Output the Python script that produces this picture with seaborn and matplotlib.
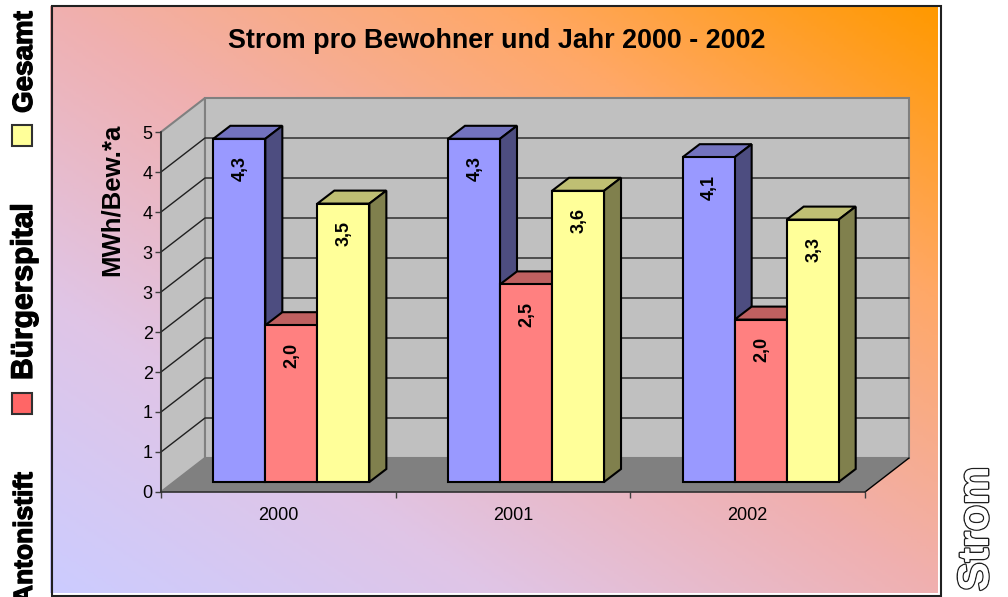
import numpy as np
import pandas as pd
import matplotlib
matplotlib.use("Agg")
import matplotlib.pyplot as plt
import matplotlib.patheffects as pe
from matplotlib.colors import LinearSegmentedColormap
from matplotlib.patches import Rectangle
import seaborn as sns

# data
years = ["2000", "2001", "2002"]
series_names = ["Antonistift", "Bürgerspital", "Gesamt"]
antonistift = [4.29, 4.29, 4.06]
buergerspital = [1.96, 2.47, 2.03]
gesamt = [3.48, 3.64, 3.28]
y_ticks = [0, 0.5, 1, 1.5, 2, 2.5, 3, 3.5, 4, 4.5]
y_tick_labels = ["0", "1", "1", "2", "2", "3", "3", "4", "4", "5"]

front_colors = ["#9999FF", "#FF8080", "#FFFF99"]
top_colors = ["#7373BF", "#BF6060", "#BFBF73"]
side_colors = ["#4D4D80", "#804040", "#80804D"]

W, H = 1008, 597

sns.set_style("white")
plt.rcParams['font.family'] = ['Liberation Sans', 'DejaVu Sans']

df = pd.DataFrame({
    "year": years * 3,
    "series": np.repeat(series_names, 3),
    "value": antonistift + buergerspital + gesamt,
})

fig = plt.figure(figsize=(W / 100, H / 100), dpi=100, facecolor="white")


def fx(px):
    return px / W


def fy(px):
    return 1 - px / H


# gradient background
bg = fig.add_axes([fx(50), fy(593), (938 - 50) / W, (593 - 6) / H], zorder=0)
u, v = np.meshgrid(np.linspace(0, 1, 300), np.linspace(1, 0, 200))
cmap = LinearSegmentedColormap.from_list("sunset", [
    (0, "#CCCCFF"), (0.25, "#E0C5E6"), (0.5, "#F0B0B0"), (0.75, "#FFA868"), (1, "#FF9900")])
bg.imshow((u + v) / 2, cmap=cmap, vmin=0, vmax=1, aspect="auto")
bg.axis("off")

# main axes sit on the front plane of the fake 3D box
ax = fig.add_axes([fx(161), fy(492), 704 / W, 360 / H], zorder=1)
ax.patch.set_alpha(0)

sns.barplot(data=df, x="year", y="value", hue="series", hue_order=series_names,
            palette=front_colors, saturation=1, width=0.665, gap=0,
            edgecolor="black", linewidth=1.5, legend=False, ax=ax)
bars = list(ax.patches)
ax.set_xlim(-0.5, 2.5)
ax.set_ylim(0, 4.5)

# pixel depth offsets turned into data units
px_x = 3 / 704
px_y = 4.5 / 360
wall_dx, wall_dy = 44 * px_x, 34 * px_y
shift_dx, shift_dy = 13 * px_x, 10 * px_y
bar_dx, bar_dy = 17 * px_x, 13 * px_y

x0, x1 = -0.5, 2.5
top = y_ticks[-1]
ax.fill([x0, x0, x0 + wall_dx, x0 + wall_dx], [0, top, top + wall_dy, wall_dy],
        facecolor="#C0C0C0", edgecolor="#808080", lw=1.5, clip_on=False, zorder=0.5)
ax.fill([x0 + wall_dx, x0 + wall_dx, x1 + wall_dx, x1 + wall_dx],
        [wall_dy, top + wall_dy, top + wall_dy, wall_dy],
        facecolor="#C0C0C0", edgecolor="#808080", lw=1.5, clip_on=False, zorder=0.5)
ax.fill([x0, x0 + wall_dx, x1 + wall_dx, x1], [0, wall_dy, wall_dy, 0],
        facecolor="#808080", edgecolor="none", clip_on=False, zorder=0.6)
ax.plot([x1, x1 + wall_dx], [0, wall_dy], color="black", lw=1, clip_on=False, zorder=0.7)

for t in y_ticks[1:-1]:
    ax.plot([x0, x0 + wall_dx, x1 + wall_dx], [t, t + wall_dy, t + wall_dy],
            color="#202020", lw=1, clip_on=False, zorder=0.7)

# move the bars back and give them a top and a side
n_years = len(years)
for i, bar in enumerate(bars):
    s = i // n_years
    bar.set_x(bar.get_x() + shift_dx)
    bar.set_y(bar.get_y() + shift_dy)
    bar.set_clip_on(False)
    bar.set_zorder(3 + s + 0.5)
    left = bar.get_x()
    right = left + bar.get_width()
    bottom = bar.get_y()
    upper = bottom + bar.get_height()
    ax.fill([left, left + bar_dx, right + bar_dx, right],
            [upper, upper + bar_dy, upper + bar_dy, upper],
            facecolor=top_colors[s], edgecolor="black", lw=1.5, clip_on=False, zorder=3 + s)
    ax.fill([right, right + bar_dx, right + bar_dx, right],
            [bottom, bottom + bar_dy, upper + bar_dy, upper],
            facecolor=side_colors[s], edgecolor="black", lw=1.5, clip_on=False, zorder=3 + s)
    ax.annotate(f"{bar.get_height():.1f}".replace(".", ","),
                xy=((left + right) / 2, upper), xytext=(1, -30), textcoords="offset pixels",
                rotation=90, ha="center", va="center", fontsize=13, fontweight="bold",
                color="black", zorder=8)

# axes
ax.set_xlabel("")
ax.set_ylabel("MWh/Bew.*a", fontsize=18.5, fontweight="bold", color="black")
ax.yaxis.set_label_coords((124 - 161) / 704, (492 - 200) / 360)
ax.set_yticks(y_ticks, y_tick_labels)
ax.set_xticks([0, 1, 2], years)
ax.set_xticks([-0.5, 0.5, 1.5, 2.5], minor=True)
ax.tick_params(axis="y", left=True, length=4, width=1, color="#404040", labelsize=13,
               labelcolor="black", pad=2)
ax.tick_params(axis="x", which="major", length=0, labelsize=13, labelcolor="black", pad=11)
ax.tick_params(axis="x", which="minor", bottom=True, length=4, width=1, color="#404040")
for name, spine in ax.spines.items():
    spine.set_visible(name in ("left", "bottom"))
    spine.set_color("#303030")
    spine.set_linewidth(1.2)
    spine.set_zorder(2)

ax.set_title("Strom pro Bewohner und Jahr 2000 - 2002", fontsize=19.4, fontweight="bold",
             color="black", x=(497 - 161) / 704, y=(492 - 41) / 360, va="center", pad=0)

# chart border
fig.add_artist(Rectangle((fx(52), fy(596)), (941 - 52) / W, (596 - 6) / H, fill=False,
                         edgecolor="#202020", lw=1.5, transform=fig.transFigure, zorder=5))

# legend, rotated and running off the left side
heavy = [pe.withStroke(linewidth=0.9, foreground="black")]
for name, y_end, size in [(series_names[2], 113, 20), (series_names[1], 380, 21.6),
                          (series_names[0], 604, 19)]:
    fig.text(fx(32), fy(y_end), name, rotation=90, rotation_mode="anchor", ha="left",
             va="baseline", fontsize=size, fontweight="bold", color="black", path_effects=heavy)
for y_top, col in [(125, "#FFFF99"), (393, "#FF6666")]:
    fig.add_artist(Rectangle((fx(12), fy(y_top + 21)), 20 / W, 21 / H, facecolor=col,
                             edgecolor="#303030", lw=1.5, transform=fig.transFigure))

# outlined word on the right
fig.text(fx(977), fy(529), "Strom", rotation=90, ha="center", va="center",
         fontsize=31, fontweight="bold", color="white",
         path_effects=[pe.withStroke(linewidth=2, foreground="#202020"), pe.Normal()])

fig.savefig("out.png", dpi=100)
